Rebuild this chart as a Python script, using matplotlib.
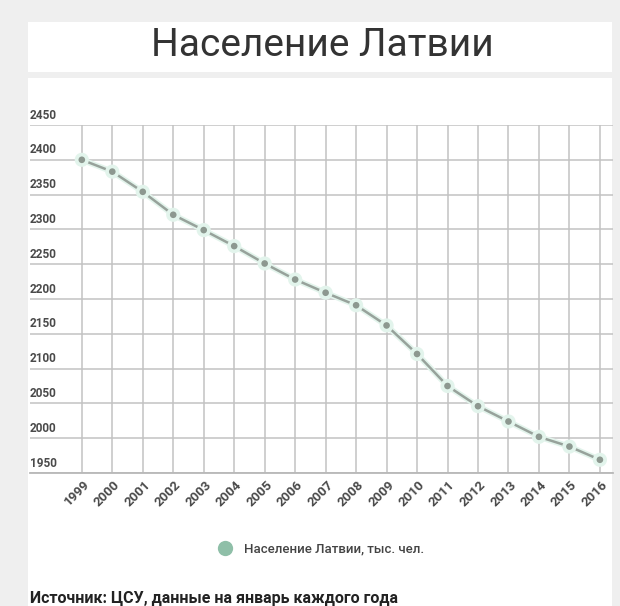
import matplotlib
matplotlib.use("Agg")
import matplotlib.pyplot as plt
import matplotlib.patheffects as pe
import matplotlib.transforms as mtransforms
from matplotlib.patches import Rectangle
from matplotlib.lines import Line2D

plt.rcParams['font.family'] = ['Roboto', 'DejaVu Sans']

# population of Latvia, thousands, January of each year
years = [1999, 2000, 2001, 2002, 2003, 2004, 2005, 2006, 2007, 2008,
         2009, 2010, 2011, 2012, 2013, 2014, 2015, 2016]
population = [2400, 2383, 2354, 2321, 2299, 2276, 2251, 2228, 2209, 2191,
              2162, 2121, 2075, 2046, 2024, 2002, 1988, 1969]
y_ticks = [1950, 2000, 2050, 2100, 2150, 2200, 2250, 2300, 2350, 2400, 2450]

title = "Население Латвии"
series_name = "Население Латвии, тыс. чел."
source = "Источник: ЦСУ, данные на январь каждого года"

W, H = 620, 606
fig = plt.figure(figsize=(W / 100, H / 100), dpi=100, facecolor='#efefef')

# white cards behind title and chart
fig.patches.append(Rectangle((28 / W, 1 - 72 / H), 584 / W, 50 / H,
                             transform=fig.transFigure, facecolor='white',
                             edgecolor='none', zorder=-10))
fig.patches.append(Rectangle((28 / W, 0), 584 / W, 1 - 78 / H,
                             transform=fig.transFigure, facecolor='white',
                             edgecolor='none', zorder=-10))

fig.text(322 / W, 1 - 46 / H, title, ha='center', va='center',
         fontsize=28, color='#333333')

ax = fig.add_axes([30 / W, 1 - 473 / H, 583 / W, 348 / H])
ax.set_facecolor('none')
ax.set_xlim(1997.3, 2016.43)
ax.set_ylim(1950, 2450)

ax.plot(years, population, color='#97a29b', lw=1.8, marker='o', ms=6,
        mfc='#8d9890', mec='#e2f5ec', mew=1.2, zorder=3,
        path_effects=[pe.Stroke(linewidth=4.2, foreground='#e3f4ec'), pe.Normal()])

ax.set_xticks(years)
ax.set_xticklabels([str(y) for y in years], rotation=45, ha='right',
                   va='center', rotation_mode='anchor', fontsize=9.5,
                   color='#4a4a4a', fontweight='bold')
ax.set_yticks(y_ticks)
ax.set_yticklabels([str(v) for v in y_ticks], ha='left', va='bottom',
                   fontsize=8.5, color='#4a4a4a', fontweight='bold')
ax.tick_params(axis='both', length=0)
ax.tick_params(axis='x', pad=0)
ax.tick_params(axis='y', pad=0)

xoff = mtransforms.ScaledTranslation(4 / 72, -7 / 72, fig.dpi_scale_trans)
for lab in ax.get_xticklabels():
    lab.set_transform(lab.get_transform() + xoff)
yoff = mtransforms.ScaledTranslation(0, 2.5 / 72, fig.dpi_scale_trans)
for lab in ax.get_yticklabels():
    lab.set_transform(lab.get_transform() + yoff)

ax.grid(True, color='#c2c2c2', lw=1.1)
ax.set_axisbelow(True)
for s in ['top', 'right', 'left']:
    ax.spines[s].set_visible(False)
ax.spines['bottom'].set_color('#b8b8b8')
ax.spines['bottom'].set_linewidth(1.3)

handle = Line2D([], [], ls='none', marker='o', ms=11, mfc='#8fbfa8', mec='none')
fig.legend([handle], [series_name], loc='center',
           bbox_to_anchor=(318 / W, 1 - 549 / H), frameon=False,
           handletextpad=0.5, prop={'size': 9.5, 'weight': 'medium'},
           labelcolor='#444444')

fig.text(30 / W, 1 - 606 / H, source, ha='left', va='bottom',
         fontsize=11.5, fontweight='bold', color='#222222')

fig.savefig('out.png', dpi=100, facecolor=fig.get_facecolor())
